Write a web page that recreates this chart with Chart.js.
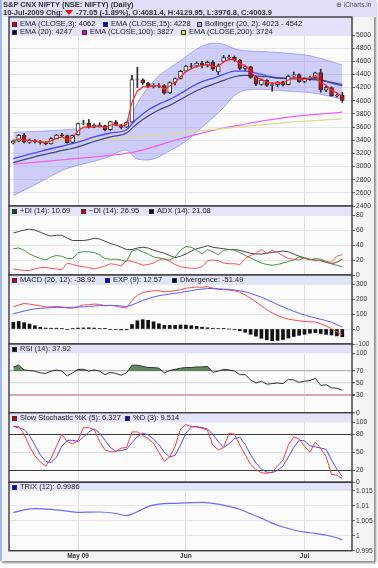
<!DOCTYPE html>
<html>
<head>
<meta charset="utf-8">
<script src="https://cdn.jsdelivr.net/npm/chart.js@4.4.1/dist/chart.umd.min.js"></script>
<style>
html, body { margin: 0; padding: 0; background: #fff; }
body { width: 378px; height: 568px; position: relative; overflow: hidden; font-family: "Liberation Sans", Arial, sans-serif; }
#card { position: absolute; left: 0; top: 0; width: 374px; height: 561px; background: #f4f4f4; border-left: 2px solid #9dbbe8; box-sizing: border-box; box-shadow: 2px 2px 2px #8c8c8c; }
#hdr { position: absolute; left: 2px; top: 0; width: 372px; height: 17px; background: #dfdff7; }
canvas { position: absolute; left: 0; top: 0; }
.t { position: absolute; white-space: nowrap; font-size: 7.5px; line-height: 8px; color: #222; z-index: 5; }
.b { font-weight: bold; color: #333; }
.sq { position: absolute; width: 3px; height: 3px; border: 1px solid #333; z-index: 5; }
.tri { display: inline-block; width: 0; height: 0; border-left: 4px solid transparent; border-right: 4px solid transparent; border-top: 5px solid #e41010; margin: 0 3px 0 2px; vertical-align: 0px; }
</style>
</head>
<body>
<div id="card"><div id="hdr"></div></div>
<div class="t b" style="left:3px;top:1px;">S&amp;P CNX NIFTY (NSE: NIFTY) (Daily)</div>
<div class="t b" style="left:3px;top:9px;">10-Jul-2009 Chg:<span class="tri"></span>-77.05 (-1.89%), O:4081.4, H:4129.95, L:3976.8, C:4003.9</div>
<div class="t" style="left:336px;top:1px;color:#555;font-size:6.5px;">&#8853; iCharts.in</div>
<canvas id="c0" width="378" height="568"></canvas>
<canvas id="c1" width="378" height="568"></canvas>
<canvas id="c2" width="378" height="568"></canvas>
<canvas id="c3" width="378" height="568"></canvas>
<canvas id="c4" width="378" height="568"></canvas>
<canvas id="c5" width="378" height="568"></canvas>
<script>
Chart.defaults.font.family = '"Liberation Sans", Arial, sans-serif';
Chart.defaults.color = '#333';

const H = 568;

// x axis: 62 sessions, 13-Apr-2009 .. 10-Jul-2009
const monthIdx = [12, 32, 54];
const monthLabels = ['May 09', 'Jun', 'Jul'];

// candles
const open  = [3360,3385,3480,3372,3395,3380,3365,3345,3425,3482,3470,3365,3480,3655,3660,3600,3630,3620,3560,3680,3632,3600,3673,4320,4318,4268,4215,4238,4232,4118,4278,4340,4450,4530,4525,4572,4540,4585,4440,4600,4650,4662,4620,4490,4515,4358,4250,4312,4232,4245,4288,4245,4378,4398,4293,4342,4355,4430,4160,4200,4078,4081.4];
const high  = [3405,3490,3500,3420,3410,3395,3380,3440,3490,3505,3478,3480,3660,3705,3715,3650,3665,3630,3690,3700,3640,3680,4385,4510,4335,4280,4260,4262,4250,4290,4350,4460,4540,4570,4590,4600,4605,4610,4560,4690,4695,4680,4628,4530,4525,4370,4330,4320,4275,4295,4300,4390,4435,4410,4350,4375,4435,4480,4225,4212,4105,4129.95];
const low   = [3345,3375,3360,3350,3360,3340,3330,3340,3420,3450,3355,3360,3478,3630,3585,3590,3600,3540,3550,3620,3575,3590,3673,4200,4250,4200,4195,4200,4100,4108,4240,4330,4440,4490,4510,4500,4515,4460,4400,4590,4620,4600,4470,4460,4340,4230,4235,4220,4145,4215,4225,4240,4360,4280,4275,4310,4340,4130,4140,4070,4055,3976.8];
const close = [3383,3474,3370,3395,3380,3365,3344,3425,3480,3470,3362,3473,3654,3661,3600,3630,3622,3556,3683,3635,3595,3671,4323,4318,4270,4212,4238,4237,4116,4276,4337,4449,4529,4525,4572,4540,4586,4480,4530,4656,4665,4624,4490,4518,4356,4251,4313,4235,4247,4285,4243,4375,4395,4291,4340,4352,4424,4165,4202,4079,4082,4003.9];

// price overlays ([index, value] where the line was read at a few points)
const ema3 = [3390,3420,3400,3398,3390,3380,3365,3390,3430,3450,3410,3440,3540,3600,3600,3612,3616,3588,3632,3636,3616,3640,3980,4150,4210,4212,4225,4230,4175,4225,4280,4365,4445,4485,4530,4532,4558,4520,4525,4590,4628,4626,4560,4538,4448,4350,4330,4285,4265,4275,4260,4315,4355,4325,4330,4340,4380,4275,4240,4160,4120,4062];
const ema15 = [[0,3120],[5,3230],[10,3330],[12,3370],[15,3450],[18,3510],[21,3560],[22,3650],[23,3730],[25,3860],[27,3950],[29,4020],[31,4110],[33,4210],[35,4290],[37,4340],[39,4400],[41,4450],[43,4450],[45,4420],[47,4380],[49,4350],[51,4345],[53,4345],[55,4340],[57,4320],[59,4270],[61,4228]];
const ema20 = [[0,3060],[5,3170],[10,3260],[12,3300],[15,3380],[18,3450],[21,3510],[22,3580],[23,3655],[25,3770],[27,3860],[29,3930],[31,4020],[33,4110],[35,4190],[37,4250],[39,4310],[41,4365],[43,4385],[45,4380],[47,4365],[49,4345],[51,4335],[53,4330],[55,4325],[57,4310],[59,4280],[61,4247]];
const ema100 = [[0,3035],[10,3110],[20,3190],[22,3215],[26,3300],[30,3400],[34,3490],[38,3570],[42,3630],[46,3690],[50,3740],[55,3785],[61,3827]];
const ema200 = [[0,3395],[10,3410],[20,3430],[30,3510],[37,3560],[41,3595],[50,3665],[61,3724]];
const bbUpper = [[0,3520],[3,3530],[6,3540],[9,3555],[12,3575],[15,3600],[18,3620],[20,3640],[21,3660],[22,3800],[23,3960],[25,4200],[27,4380],[29,4500],[31,4610],[33,4730],[35,4830],[37,4875],[39,4860],[41,4790],[43,4760],[46,4750],[49,4735],[52,4715],[55,4685],[58,4620],[61,4542]];
const bbLower = [[0,2560],[3,2680],[6,2810],[9,2940],[12,3020],[15,3080],[18,3160],[20,3240],[21,3250],[22,3180],[23,3110],[25,3100],[27,3150],[29,3240],[31,3330],[33,3450],[35,3600],[37,3740],[39,3900],[41,4080],[43,4160],[46,4175],[49,4160],[52,4140],[55,4125],[58,4080],[61,4023]];

// DMI
const plusDI  = [35,36,33,28,25,22,20,24,26,25,22,22,30,31,31,30,27,22,21,21,20,18,32,34,31,28,24,23,21,20,24,33,38,37,33,28,34,31,27,33,34,33,30,26,23,19,16,14,13,14,16,18,20,24,22,20,22,21,18,15,13,10.69];
const minusDI = [8,7,6,6,8,10,10,9,8,7,16,14,12,11,10,8,10,12,15,14,12,20,18,16,13,14,16,20,22,18,14,11,10,9,9,11,19,20,19,16,15,15,14,22,26,29,34,29,33,30,26,22,21,20,23,21,19,20,18,17,25,26.95];
const adx     = [56,58,60,61,60,57,54,52,53,53,49,46,46,46,47,49,48,45,42,40,37,34,34,36,37,36,33,31,29,26,23,25,28,32,35,37,39,37,36,35,34,34,33,31,29,28,28,29,30,31,32,31,28,25,23,21,20,19,17,15,17,21.08];

// MACD
const macd = [148,160,170,166,160,154,148,148,150,148,140,138,150,160,162,166,164,155,158,153,145,140,190,225,242,250,255,255,248,250,256,262,272,276,280,278,282,272,264,262,260,255,245,228,205,180,155,128,108,90,76,66,60,55,50,48,47,35,20,2,-18,-38.92];
const macdExp = [103,110,120,128,134,138,140,142,144,144,144,145,146,148,150,153,156,156,157,156,153,150,160,175,190,203,213,222,228,233,238,243,250,256,262,266,270,270,268,266,264,260,255,248,238,225,212,196,180,163,148,132,118,105,94,83,74,65,56,45,30,12.57];
const macdDiv = [45,50,42,33,22,12,6,5,5,4,-3,4,6,7,8,6,4,2,-3,-4,-6,-5,30,55,62,58,48,35,24,24,24,27,26,22,18,12,8,5,3,2,0,-4,-12,-22,-35,-48,-62,-72,-78,-76,-70,-60,-50,-42,-35,-28,-24,-30,-36,-40,-46,-51.49];

// RSI
const rsi = [77,80,72,71,70,67,66,70,72,70,62,67,73,73,70,72,70,64,68,66,63,67,80,80,78,76,76,75,67,71,73,75,76,76,77,77,78,68,70,73,72,70,64,64,55,50,53,48,49,50,49,56,55,51,53,54,58,46,47,42,41,37.92];

// slow stochastic
const stochK = [93,93,80,60,44,34,27,40,60,80,68,64,70,91,91,88,68,54,51,51,57,58,84,84,78,73,65,50,35,42,60,89,96,93,92,90,87,62,54,58,82,80,62,46,30,21,16,15,17,27,37,62,76,72,60,50,67,56,43,13,12,6.327];
const stochD = [93,91,88,78,62,46,35,33,42,60,70,70,68,75,84,89,82,70,58,52,53,55,66,76,82,79,72,63,50,42,45,62,82,92,93,91,89,80,68,58,64,73,75,63,46,32,22,17,16,20,27,42,58,70,69,61,59,57,55,37,22,9.514];

// TRIX
const trix = [[0,1.0077],[2,1.0086],[4,1.0090],[7,1.0088],[10,1.0082],[12,1.0078],[16,1.0079],[19,1.0074],[21,1.0067],[23,1.0080],[25,1.0097],[27,1.0105],[30,1.0108],[33,1.0110],[35,1.0111],[37,1.0108],[40,1.0098],[42,1.0088],[44,1.0073],[46,1.0058],[48,1.0042],[50,1.0029],[52,1.0019],[54,1.0012],[56,1.0008],[58,1.0002],[60,0.9993],[61,0.9986]];

// legend labels
const mainLegend = [
  ['EMA (CLOSE,3): 4062', '#e00000'], ['EMA (CLOSE,15): 4228', '#0000ee'], ['Bollinger (20, 2): 4023 - 4542', '#a4a4f4'],
  ['EMA (20): 4247', '#00006a'], ['EMA (CLOSE,100): 3827', '#dd00dd'], ['EMA (CLOSE,200): 3724', '#e4e400']
];
const diLegend = [['+DI (14): 10.69', '#006400'], ['\u2212DI (14): 26.95', '#e00000'], ['ADX (14): 21.08', '#000']];
const macdLegend = [['MACD (26, 12): -38.92', '#e00000'], ['EXP (9): 12.57', '#0000ee'], ['Divergence: -51.49', '#000']];
const rsiLegend = [['RSI (14): 37.92', '#000']];
const stochLegend = [['Slow Stochastic %K (5): 6.327', '#e00000'], ['%D (3): 9.514', '#0000ee']];
const trixLegend = [['TRIX (12): 0.9986', '#0000ee']];

// panel geometry
const panels = [
  { box: 17, top: 35, bottom: 206 },
  { box: 206, top: 215, bottom: 275 },
  { box: 275, top: 284, bottom: 344 },
  { box: 344, top: 353.3, bottom: 412.7 },
  { box: 412.7, top: 422.3, bottom: 482.3 },
  { box: 482.3, top: 490.7, bottom: 550.7 }
];

function addLegend(items, rows) {
  items.forEach((it, k) => {
    const r = rows[k];
    const sq = document.createElement('div');
    sq.className = 'sq';
    sq.style.left = r[0] + 'px';
    sq.style.top = (r[1] - 2.5) + 'px';
    sq.style.background = it[1];
    document.body.appendChild(sq);
    const t = document.createElement('div');
    t.className = 't';
    t.style.left = (r[0] + 8) + 'px';
    t.style.top = (r[1] - 4.5) + 'px';
    t.textContent = it[0];
    document.body.appendChild(t);
  });
}
addLegend(mainLegend, [[12,24],[103,24],[197,24],[12,32],[82,32],[181,32]]);
addLegend(diLegend, [[12,211],[81,211],[149,211]]);
addLegend(macdLegend, [[12,280],[105,280],[172,280]]);
addLegend(rsiLegend, [[12,349]]);
addLegend(stochLegend, [[12,418],[125,418]]);
addLegend(trixLegend, [[12,487]]);

function pts(arr) { return arr.map((v, i) => ({ x: i, y: v })); }
function sparse(pairs) { return pairs.map(p => ({ x: p[0], y: p[1] })); }
function line(label, data, color, extra) {
  return Object.assign({ type: 'line', label: label, data: data, borderColor: color, borderWidth: 1, pointRadius: 0, tension: 0, fill: false }, extra || {});
}
const smooth = { cubicInterpolationMode: 'monotone' };

const frame = {
  id: 'panelFrame',
  beforeDraw(chart, args, opts) {
    const ctx = chart.ctx, a = chart.chartArea;
    ctx.save();
    ctx.fillStyle = '#fbfbfb';
    ctx.fillRect(a.left, a.top, a.width, a.height);
    ctx.fillStyle = '#e2e2f8';
    ctx.fillRect(a.left, opts.box, a.width, a.top - opts.box);
    ctx.restore();
  },
  afterDraw(chart, args, opts) {
    const ctx = chart.ctx, a = chart.chartArea;
    ctx.save();
    ctx.strokeStyle = '#3a3a3a';
    ctx.lineWidth = 1.4;
    ctx.strokeRect(a.left, opts.box, a.width, a.bottom - opts.box);
    ctx.restore();
  }
};

function xScale(show) {
  return {
    type: 'linear', min: -0.8, max: 62.8, offset: false, bounds: 'data',
    afterBuildTicks(s) { s.ticks = monthIdx.map(v => ({ value: v })); },
    afterFit(s) { s.height = show ? 12 : 0; },
    ticks: { display: show, autoSkip: false, maxRotation: 0, padding: 2, font: { size: 6.5, weight: 'bold' }, color: '#333',
             callback: v => monthLabels[monthIdx.indexOf(v)] },
    grid: { color: '#e0e0e0', drawTicks: false, offset: false },
    border: { display: false }
  };
}

function yScale(min, max, tickVals, gridColor, gridWidth) {
  return {
    position: 'right', min: min, max: max,
    afterFit(s) { s.width = 26; },
    afterBuildTicks(s) { s.ticks = tickVals.map(v => ({ value: v })); },
    ticks: { font: { size: 6.7 }, color: '#333', padding: 1, autoSkip: false, callback: v => String(+v.toFixed(3)) },
    grid: { color: gridColor || '#e6e6e6', lineWidth: gridWidth || 1, drawTicks: true, tickLength: 3, tickColor: '#666' },
    border: { display: false }
  };
}

function panel(id, p, datasets, y, showX) {
  return new Chart(document.getElementById(id), {
    type: 'line',
    data: { datasets: datasets },
    options: {
      responsive: false, animation: false, devicePixelRatio: 1,
      layout: { padding: { left: 9, right: 0, top: p.top, bottom: H - p.bottom - (showX ? 12 : 0) } },
      plugins: { legend: { display: false }, tooltip: { enabled: false }, panelFrame: p },
      scales: { x: xScale(showX), y: y }
    },
    plugins: [frame]
  });
}

// main price panel
const bodyColors = close.map((c, i) => c >= open[i] ? '#ffffff' : '#bb1212');
panel('c0', panels[0], [
  line('BB upper', sparse(bbUpper), 'rgba(125,125,240,0.6)', Object.assign({ fill: '+1', backgroundColor: 'rgba(112,112,240,0.33)', order: 10 }, smooth)),
  line('BB lower', sparse(bbLower), 'rgba(125,125,240,0.6)', Object.assign({ order: 10 }, smooth)),
  line('EMA200', sparse(ema200), '#dcdc8c', Object.assign({ borderWidth: 1.2, order: 9 }, smooth)),
  line('EMA100', sparse(ema100), '#f060f0', Object.assign({ borderWidth: 1.2, order: 9 }, smooth)),
  line('EMA20', sparse(ema20), '#42427e', Object.assign({ borderWidth: 1.2, order: 8 }, smooth)),
  line('EMA15', sparse(ema15), '#4a4af6', Object.assign({ borderWidth: 1.3, order: 8 }, smooth)),
  { type: 'bar', label: 'wick', data: low.map((l, i) => ({ x: i, y: [l, high[i]] })), backgroundColor: '#2b2b2b', barThickness: 1, grouped: false, order: 5 },
  { type: 'bar', label: 'body', data: open.map((o, i) => ({ x: i, y: [o, close[i]] })), backgroundColor: bodyColors, borderColor: '#2b2b2b', borderWidth: 1, borderSkipped: false, barThickness: 4, grouped: false, order: 4 },
  line('EMA3', pts(ema3), '#ff2a2a', { borderWidth: 1.2, order: 1 })
], yScale(2400, 5000, [2400,2600,2800,3000,3200,3400,3600,3800,4000,4200,4400,4600,4800,5000]), false);

// DMI panel
panel('c1', panels[1], [
  line('+DI', pts(plusDI), '#4a944a'),
  line('-DI', pts(minusDI), '#ff5252'),
  line('ADX', pts(adx), '#474747')
], yScale(0, 80, [0,20,40,60,80]), false);

// MACD panel
panel('c2', panels[2], [
  { type: 'bar', label: 'Divergence', data: pts(macdDiv), backgroundColor: '#111', barThickness: 3, grouped: false, order: 5 },
  line('MACD', pts(macd), '#ff4a4a', { order: 2 }),
  line('EXP', pts(macdExp), '#5c5cff', { order: 1 })
], yScale(-100, 300, [-100,0,100,200,300]), false);

// RSI panel
const rsiGrid = ctx => {
  const v = ctx.tick ? ctx.tick.value : null;
  if (v === 70) return '#a3c0a3';
  if (v === 30) return '#d2aaaa';
  if (v === 50) return '#dddddd';
  return 'rgba(0,0,0,0)';
};
const rsiWidth = ctx => (ctx.tick && ctx.tick.value === 30) ? 2 : 1.3;
panel('c3', panels[3], [
  line('RSI', pts(rsi), '#333333', { fill: { target: { value: 70 }, above: 'rgba(70,115,70,0.85)', below: 'rgba(0,0,0,0)' } })
], yScale(0, 100, [0,30,50,70,100], rsiGrid, rsiWidth), false);

// slow stochastic panel
const stochGrid = ctx => {
  const v = ctx.tick ? ctx.tick.value : null;
  if (v === 80 || v === 20) return '#3a3a3a';
  if (v === 50) return '#dddddd';
  return 'rgba(0,0,0,0)';
};
panel('c4', panels[4], [
  line('%K', pts(stochK), '#ff3c3c'),
  line('%D', pts(stochD), '#4c4cff')
], yScale(0, 100, [0,20,50,80,100], stochGrid), false);

// TRIX panel
panel('c5', panels[5], [
  line('TRIX', sparse(trix), '#6a6aff', Object.assign({ borderWidth: 1.2 }, smooth))
], yScale(0.995, 1.015, [0.995,1,1.005,1.01,1.015]), true);
</script>
</body>
</html>
